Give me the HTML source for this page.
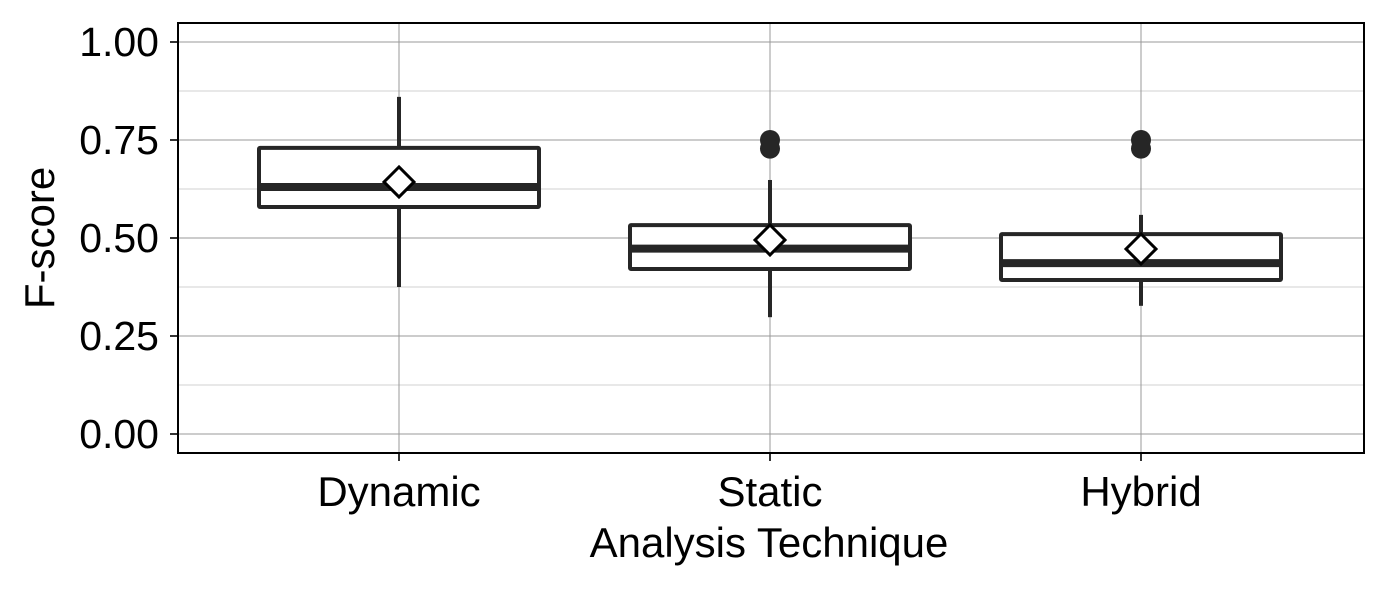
<!DOCTYPE html>
<html><head><meta charset="utf-8"><style>body{margin:0;background:#fff}svg{display:block}text{font-family:"Liberation Sans",Arial,sans-serif}</style></head>
<body>
<svg id="chart" width="1387" height="590" viewBox="0 0 1387 590" xmlns="http://www.w3.org/2000/svg"></svg>
<script>
const categories=["Dynamic","Static","Hybrid"];
const q1=[0.579,0.421,0.393];
const medians=[0.630,0.473,0.436];
const q3=[0.730,0.533,0.510];
const whiskerLow=[0.375,0.298,0.327];
const whiskerHigh=[0.860,0.648,0.559];
const means=[0.643,0.495,0.472];
const outliers=[[],[0.750,0.728],[0.750,0.728]];
const yTicks=[0,0.25,0.5,0.75,1.0];
const yTickLabels=["0.00","0.25","0.50","0.75","1.00"];
const NS="http://www.w3.org/2000/svg";
const svg=document.getElementById('chart');
const L=178,R=1364,T=23,B=453;
const y=v=>434-392*v;
const x=i=>399+i*371;
function mk(t,a,p){const e=document.createElementNS(NS,t);for(const k in a)e.setAttribute(k,a[k]);(p||svg).appendChild(e);return e;}
const grid=mk('g',{});


for(let i=0;i<yTicks.length-1;i++){const v=(yTicks[i]+yTicks[i+1])/2;mk('line',{x1:L,x2:R,y1:y(v),y2:y(v),stroke:'#d0d0d0','stroke-width':1},grid);}
yTicks.forEach(v=>mk('line',{x1:L,x2:R,y1:y(v),y2:y(v),stroke:'#999','stroke-width':1},grid));
categories.forEach((c,i)=>mk('line',{x1:x(i),x2:x(i),y1:T,y2:B,stroke:'#999','stroke-width':1},grid));
categories.forEach((c,i)=>{
 const g=mk('g',{});
 
 
 const cx=x(i),hw=140;
 mk('line',{x1:cx,x2:cx,y1:y(whiskerHigh[i]),y2:y(q3[i]),stroke:'#262626','stroke-width':4},g);
 mk('line',{x1:cx,x2:cx,y1:y(q1[i]),y2:y(whiskerLow[i]),stroke:'#262626','stroke-width':4},g);
 mk('rect',{x:cx-hw,y:y(q3[i]),width:2*hw,height:y(q1[i])-y(q3[i]),fill:'#fff',stroke:'#262626','stroke-width':4,rx:1},g);
 mk('line',{x1:cx-hw,x2:cx+hw,y1:y(medians[i]),y2:y(medians[i]),stroke:'#262626','stroke-width':8},g);
 outliers[i].forEach(o=>{const p=mk('circle',{cx:cx,cy:y(o),r:10,fill:'#262626'},g);});
 const m=y(means[i]);
 const d=mk('polygon',{points:`${cx},${m-15} ${cx+15},${m} ${cx},${m+15} ${cx-15},${m}`,fill:'#fff',stroke:'#000','stroke-width':3},g);
 
 
 mk('line',{x1:cx,x2:cx,y1:B,y2:B+8,stroke:'#333','stroke-width':2});
 const t=mk('text',{x:cx,y:506,'font-size':42,'text-anchor':'middle',fill:'#000'});t.textContent=c;
 
 
});
yTicks.forEach((v,i)=>{
 mk('line',{x1:L-8,x2:L,y1:y(v),y2:y(v),stroke:'#333','stroke-width':2});
 const t=mk('text',{x:L-19,y:y(v)+14,'font-size':41,'text-anchor':'end',fill:'#000'});t.textContent=yTickLabels[i];
 
 
});
const fr=mk('rect',{x:L,y:T,width:R-L,height:B-T,fill:'none',stroke:'#000','stroke-width':2});


const xt=mk('text',{x:769,y:557,'font-size':42,'text-anchor':'middle',fill:'#000'});xt.textContent='Analysis Technique';


const yt=mk('text',{x:0,y:0,'font-size':42,'text-anchor':'middle',fill:'#000',transform:'translate(54,238) rotate(-90)'});yt.textContent='F-score';


</script>
</body></html>
